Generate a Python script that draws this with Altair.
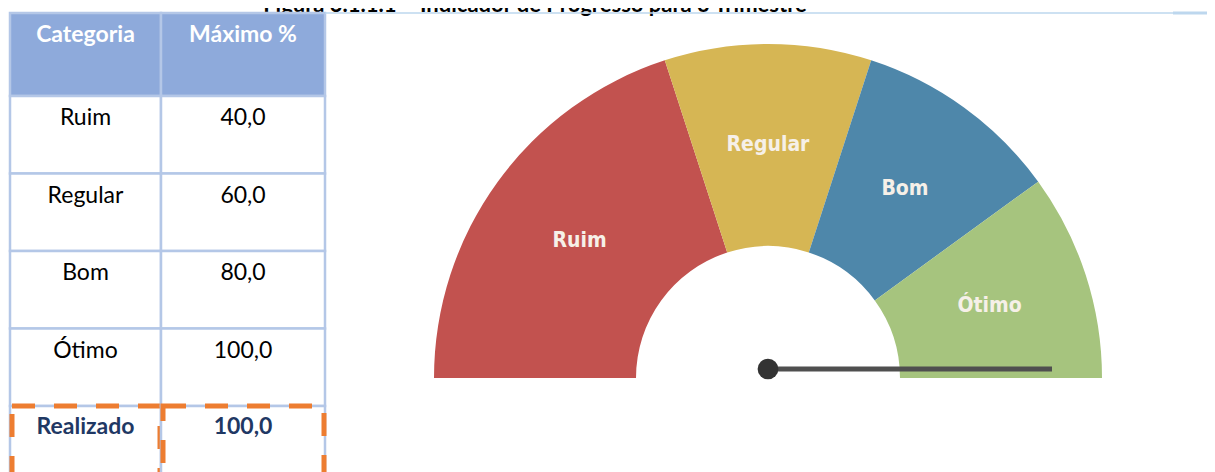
import math
import altair as alt
import pandas as pd

# ---- data ----
titulo = "Figura 3.1.1.1 – Indicador de Progresso para o Trimestre"
cabecalho = ["Categoria", "Máximo %"]
categorias = ["Ruim", "Regular", "Bom", "Ótimo"]
maximos = [40.0, 60.0, 80.0, 100.0]
rotulo_realizado = "Realizado"
realizado = 100.0
cores = ["#C2524F", "#D6B654", "#4E87AA", "#A6C47E"]


def fmt(v):
    return f"{v:.1f}".replace(".", ",")


# ---- layout constants ----
BORDA = "#B4C7E7"
HEAD_FILL = "#8EAADB"
NAVY = "#1F3864"
ORANGE = "#ED7D31"
FONT = "Lato"
LABEL_FONT = "DejaVu Sans Condensed, Roboto, sans-serif"
COLS = [(2, 153), (153, 317)]
CX, CY = 760, 370
R_IN, R_OUT = 132, 334
NEEDLE_Y = 361
NEEDLE_L = 284
HEAD_H = 83
ROW_H = 77.5

# ---- table data ----
head_df = pd.DataFrame({"row": ["h"], "c0": [cabecalho[0]], "c1": [cabecalho[1]]})
body_rows = categorias + [rotulo_realizado]
body_df = pd.DataFrame({
    "row": body_rows,
    "c0": categorias + [rotulo_realizado],
    "c1": [fmt(v) for v in maximos] + [fmt(realizado)],
    "kind": ["body"] * len(categorias) + ["real"],
})

head_scale = alt.Scale(domain=["h"], range=[5, 5 + HEAD_H], paddingInner=0, paddingOuter=0)
body_scale = alt.Scale(domain=body_rows, range=[88, 88 + ROW_H * len(body_rows)],
                       paddingInner=0, paddingOuter=0)

layers = []

# header cells
for i, (x0, x1) in enumerate(COLS):
    base = alt.Chart(head_df)
    layers.append(base.mark_rect(fill=HEAD_FILL, stroke=BORDA, strokeWidth=2.5).encode(
        x=alt.value(x0), x2=alt.value(x1),
        y=alt.Y("row:N", scale=head_scale, axis=None)))
    layers.append(base.mark_text(font=FONT, fontSize=23, fontWeight="bold", color="white",
                                 baseline="alphabetic", align="center",
                                 dy=29 - HEAD_H / 2).encode(
        x=alt.value((x0 + x1) / 2),
        y=alt.Y("row:N", scale=head_scale, axis=None),
        text=f"c{i}:N"))

# body cells
for i, (x0, x1) in enumerate(COLS):
    base = alt.Chart(body_df)
    layers.append(base.mark_rect(fill="white", stroke=BORDA, strokeWidth=2.5).encode(
        x=alt.value(x0), x2=alt.value(x1),
        y=alt.Y("row:N", scale=body_scale, axis=None)))
    layers.append(base.transform_filter("datum.kind == 'body'").mark_text(
        font=FONT, fontSize=23, color="black", baseline="alphabetic", align="center",
        dy=29 - ROW_H / 2).encode(
        x=alt.value((x0 + x1) / 2),
        y=alt.Y("row:N", scale=body_scale, axis=None),
        text=f"c{i}:N"))
    layers.append(base.transform_filter("datum.kind == 'real'").mark_text(
        font=FONT, fontSize=23, fontWeight="bold", color=NAVY, baseline="alphabetic",
        align="center", dy=28 - ROW_H / 2).encode(
        x=alt.value((x0 + x1) / 2),
        y=alt.Y("row:N", scale=body_scale, axis=None),
        text=f"c{i}:N"))
    layers.append(base.transform_filter("datum.kind == 'real'").mark_rect(
        fill=None, fillOpacity=0, stroke=ORANGE, strokeWidth=5, strokeDash=[23, 19]).encode(
        x=alt.value(x0 + 2), x2=alt.value(x1 - 1),
        y=alt.Y("row:N", scale=body_scale, axis=None)))

# ---- gauge ----
g = pd.DataFrame({"categoria": categorias, "fim": maximos})
g["inicio"] = [0.0] + maximos[:-1]
g["meio"] = (g["inicio"] + g["fim"]) / 2
theta_scale = alt.Scale(domain=[0, 100], range=[-math.pi / 2, math.pi / 2])

arcs = alt.Chart(g).mark_arc(innerRadius=R_IN, outerRadius=R_OUT).encode(
    theta=alt.Theta("inicio:Q", scale=theta_scale, stack=None),
    theta2="fim:Q",
    color=alt.Color("categoria:N", scale=alt.Scale(domain=categorias, range=cores), legend=None),
    x=alt.value(CX), y=alt.value(CY))
labels = alt.Chart(g).mark_text(radius=(R_IN + R_OUT) / 2, font=LABEL_FONT,
                                fontSize=21, fontWeight="bold", color="#F6F0E8",
                                baseline="middle", align="center").encode(
    theta=alt.Theta("meio:Q", scale=theta_scale, stack=None),
    text="categoria:N",
    x=alt.value(CX), y=alt.value(CY))
layers += [arcs, labels]

needle_df = pd.DataFrame({"valor": [realizado]})
needle_base = alt.Chart(needle_df).transform_calculate(
    ang="-PI/2 + PI*datum.valor/100",
).transform_calculate(
    x0=f"{CX}", y0=f"{NEEDLE_Y}",
    x1=f"{CX} + {NEEDLE_L}*sin(datum.ang)",
    y1=f"{NEEDLE_Y} - {NEEDLE_L}*cos(datum.ang)",
)
needle = needle_base.mark_rule(color="#4F4F4F", strokeWidth=5).encode(
    x=alt.X("x0:Q", scale=None), y=alt.Y("y0:Q", scale=None),
    x2="x1:Q", y2="y1:Q")
hub = needle_base.mark_circle(size=430, color="#333333", opacity=1).encode(
    x=alt.X("x0:Q", scale=None), y=alt.Y("y0:Q", scale=None))
layers += [needle, hub]

# ---- title and top line ----
one = pd.DataFrame({"t": [titulo]})
title = alt.Chart(one).mark_text(font=FONT, fontSize=22, fontWeight="bold", color="black",
                                 baseline="alphabetic", align="center").encode(
    x=alt.value(527), y=alt.value(4), text="t:N")
top_line = alt.Chart(one).mark_rule(color="#BDD7EE", strokeWidth=1.5).encode(
    x=alt.value(317), x2=alt.value(1199), y=alt.value(5))
top_line2 = alt.Chart(one).mark_rule(color="#BDD7EE", strokeWidth=3).encode(
    x=alt.value(1165), x2=alt.value(1199), y=alt.value(5))
layers = [title] + layers + [top_line, top_line2]

chart = alt.layer(*layers).resolve_scale(x="independent", y="independent").properties(
    width=1199, height=464, padding=0,
    autosize=alt.AutoSizeParams(type="none"),
).configure_view(stroke=None)

chart.save("out.html", embed_options={"renderer": "svg", "actions": False})
